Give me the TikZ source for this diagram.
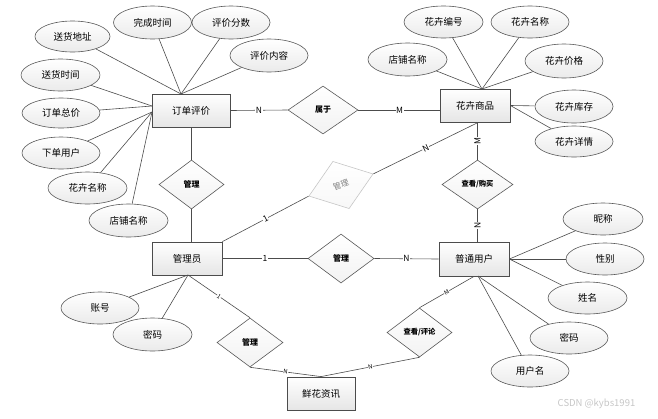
\documentclass[tikz,border=0pt]{standalone}
\usepackage{fontspec}
\setmainfont{Noto Sans CJK SC}
\usetikzlibrary{shapes.geometric,shadows}
\begin{document}
\begin{tikzpicture}[x=1pt,y=-1pt,
  ent/.style={rectangle, draw=black!70, line width=0.8pt, top color=white, bottom color=gray!20,
    minimum width=70pt, minimum height=33pt, inner sep=0pt, font=\fontsize{9.5}{10}\selectfont,
    drop shadow={shadow xshift=1.3pt, shadow yshift=-1.3pt, fill=black!35, opacity=1}},
  attr/.style={ellipse, draw=black!65, line width=0.6pt, top color=white, bottom color=gray!16,
    minimum width=78pt, minimum height=32pt, inner sep=0pt, font=\fontsize{9.5}{10}\selectfont},
  rel/.style={diamond, draw=black!65, line width=0.6pt, top color=white, bottom color=gray!10,
    minimum width=66pt, minimum height=49pt, inner sep=0pt, font=\fontsize{8}{8}\selectfont\bfseries},
  conn/.style={draw=black!70, line width=0.6pt},
  lab/.style={fill=white, inner sep=0.6pt, font=\fontsize{8.5}{9}\selectfont},
  slab/.style={fill=white, inner sep=0.4pt, font=\fontsize{6}{6}\selectfont},
]
\useasboundingbox (0,0) rectangle (658,418);

% entities
\node[ent, minimum width=78pt] (oe) at (191,110.5) {订单评价};
\node[ent] (hp) at (475,105.5) {花卉商品};
\node[ent] (gly) at (187,258.5) {管理员};
\node[ent, minimum height=34pt] (pt) at (474,259) {普通用户};
\node[ent, minimum width=68pt] (xh) at (321,393.5) {鲜花资讯};

% relationships
\node[rel, minimum width=70pt, minimum height=48pt] (sy) at (323,110) {属于};
\node[rel, minimum width=65pt] (gl1) at (191.5,184.5) {管理};
\node[rel, minimum width=68pt, minimum height=50pt, rotate=19, draw=gray!45, text=gray,
  font=\fontsize{8}{8}\selectfont, bottom color=gray!6] (gg) at (341,185) {管理};
\node[rel, minimum width=71pt, font=\fontsize{7.3}{8}\selectfont\bfseries] (ck) at (477.5,184.5) {查看/购买};
\node[rel] (gh) at (341,258.5) {管理};
\node[rel] (gl3) at (250,342.5) {管理};
\node[rel, minimum width=65pt, font=\fontsize{7.3}{8}\selectfont\bfseries] (cp) at (419.5,332.5) {查看/评论};

% attributes of 订单评价
\node[attr, minimum width=75pt, minimum height=31pt] (a1) at (72.5,36.5) {送货地址};
\node[attr, minimum height=33pt] (a2) at (152.5,22.5) {完成时间};
\node[attr, minimum height=33pt] (a3) at (231,22.5) {评价分数};
\node[attr, minimum height=33pt] (a4) at (269,55.5) {评价内容};
\node[attr, minimum width=79pt] (a5) at (60.5,75) {送货时间};
\node[attr, minimum height=30pt] (a6) at (61,113) {订单总价};
\node[attr] (a7) at (61,153) {下单用户};
\node[attr, minimum width=79pt] (a8) at (87.5,188) {花卉名称};
\node[attr, minimum width=79pt, minimum height=33pt] (a9) at (128.5,220.5) {店铺名称};

% attributes of 花卉商品
\node[attr, minimum width=79pt] (b1) at (443.5,22) {花卉编号};
\node[attr] (b2) at (530,22) {花卉名称};
\node[attr, minimum width=79pt, minimum height=33pt] (b3) at (407.5,59.5) {店铺名称};
\node[attr, minimum height=34pt] (b4) at (564,61) {花卉价格};
\node[attr, minimum height=33pt] (b5) at (574,106.5) {花卉库存};
\node[attr, minimum height=31pt] (b6) at (574,141.5) {花卉详情};

% attributes of 普通用户
\node[attr, minimum width=80pt] (c1) at (603,219) {昵称};
\node[attr] (c2) at (605,259) {性别};
\node[attr, minimum width=79pt] (c3) at (587.5,298) {姓名};
\node[attr] (c4) at (569,338) {密码};
\node[attr] (c5) at (530,371) {用户名};

% attributes of 管理员
\node[attr] (d1) at (100,308) {账号};
\node[attr, minimum width=79pt, minimum height=33pt] (d2) at (152.5,334.5) {密码};

% anchor points
\coordinate (oeT) at (181,94);
\coordinate (oeL) at (152,106);
\coordinate (oeLL) at (152,112);
\coordinate (hpT) at (482,89);
\coordinate (hpW) at (441,110);
\coordinate (hpB) at (478,122.5);
\coordinate (ptB) at (478,276);
\coordinate (glyB) at (188,275);

% connectors: 订单评价
\foreach \a in {a1,a2,a3,a4} \draw[conn] (\a) -- (oeT);
\foreach \a in {a5,a6} \draw[conn] (\a) -- (oeL);
\foreach \a in {a7,a8,a9} \draw[conn] (\a) -- (oeLL);
% 花卉商品
\foreach \a in {b1,b2,b3,b4} \draw[conn] (\a) -- (hpT);
\draw[conn] (hp.east) -- (b5);
\draw[conn] (hp.east) -- (b6);
% 普通用户
\draw[conn] (pt.east) -- (c1);
\draw[conn] (pt.east) -- (c2);
\draw[conn] (pt.east) -- (c3);
\draw[conn] (ptB) -- (c4);
\draw[conn] (ptB) -- (c5);
% 管理员
\draw[conn] (glyB) -- (d1);
\draw[conn] (glyB) -- (d2);

% relationships
\draw[conn] (oe.east) -- node[lab] {N} (sy.west);
\draw[conn] (sy.east) -- node[lab] {M} (hpW);
\draw[conn] (gl1.north |- oe.south) -- (gl1.north);
\draw[conn] (gl1.south) -- (gl1.south |- gly.north);
\draw[conn] (gly.north east) -- node[lab, sloped] {1} (gg.west);
\draw[conn] (gg.east) -- node[lab, sloped] {N} (hpB);
\draw[conn] (ck.north |- hp.south) -- node[lab, rotate=90] {M} (ck.north);
\draw[conn] (ck.south) -- node[lab, rotate=90] {N} (ck.south |- pt.north);
\draw[conn] (gly.east) -- node[lab] {1} (gh.west);
\draw[conn] (gh.east) -- node[lab] {N} (pt.west);
\draw[conn] (glyB) -- node[slab, sloped] {1} (gl3.north);
\draw[conn] (gl3.south) -- node[slab, sloped] {N} (xh.north);
\draw[conn] (pt.south) -- node[slab, sloped] {M} (cp.north);
\draw[conn] (cp.south) -- node[slab, sloped] {N} (xh.north);

% watermark
\node[text=gray!45, font=\fontsize{9.5}{10}\selectfont, inner sep=0pt] (wm) at (596.5,404) {CSDN @kybs1991};
\end{tikzpicture}
\end{document}
